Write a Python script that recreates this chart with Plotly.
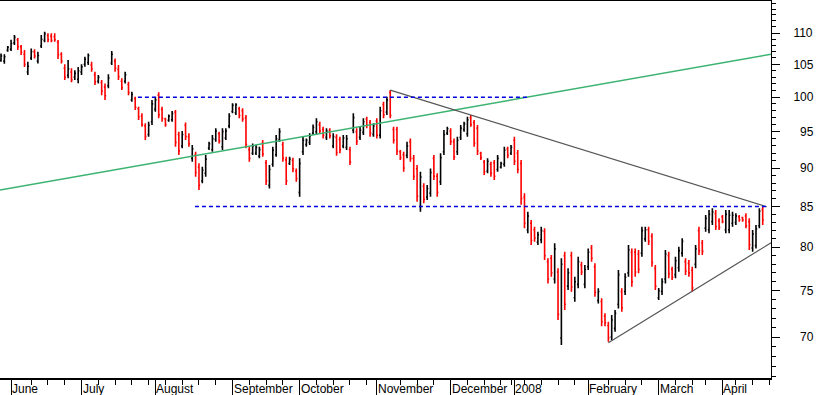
import plotly.graph_objects as go

# ---- OHLC data (one bar per trading day, index 1..228) ----
opens = [105.6,105.5,107.2,107.4,108.4,108.9,107.8,106.6,103.8,106.0,
107.0,105.5,107.9,108.8,109.6,109.5,109.4,108.5,106.6,104.4,
103.3,103.8,103.0,102.7,103.8,105.0,105.3,104.9,103.4,102.4,
102.2,101.5,101.7,105.2,105.5,104.2,102.4,102.4,101.9,99.6,
99.8,98.3,97.2,95.8,94.6,96.4,98.2,100.3,98.2,96.8,
96.6,96.7,97.8,94.6,93.0,95.9,94.3,91.3,91.8,90.1,
88.3,89.3,92.7,92.5,93.9,94.7,92.9,94.1,95.8,97.9,
97.7,98.3,98.0,97.0,92.5,92.0,92.0,91.6,93.4,90.7,
87.7,90.5,91.8,93.9,93.2,91.1,90.6,91.0,89.6,86.8,
92.2,93.2,93.5,94.8,95.0,96.0,95.3,94.2,95.2,93.0,
94.2,93.9,93.0,92.8,92.5,95.2,95.0,94.2,94.9,96.8,
96.3,94.6,96.5,94.5,98.9,97.8,100.7,95.3,95.3,92.2,
91.8,91.7,93.6,91.3,89.9,85.0,87.6,86.2,86.7,91.3,
88.9,88.2,92.2,94.8,95.1,93.6,92.2,94.2,95.3,94.7,
97.0,96.3,95.5,92.0,90.8,89.6,90.5,90.7,89.8,90.1,
90.5,92.6,92.0,93.8,92.0,90.6,86.2,82.1,82.9,82.1,
80.6,80.9,81.9,78.3,78.7,76.3,77.1,69.9,79.0,75.5,
79.0,74.2,75.7,77.9,75.7,77.7,79.9,77.7,73.9,73.8,
72.2,71.2,70.0,70.9,73.5,74.9,74.9,77.0,79.4,79.4,
79.2,79.3,81.0,82.1,81.3,77.5,74.2,74.9,76.3,79.0,
77.4,76.8,77.6,79.3,78.3,78.1,77.3,78.0,82.0,80.5,
82.3,82.1,83.1,84.1,83.2,83.7,82.1,82.1,82.9,83.0,
83.7,83.6,83.8,83.1,79.9,80.2,82.6,84.6]

highs = [106.7,106.6,107.9,108.9,109.7,109.2,108.05,107.25,105.4,107.5,
107.4,107.0,109.67,110.2,109.95,109.95,109.95,108.86,106.9,105.0,
105.67,104.38,104.1,104.6,105.0,106.19,106.7,105.4,103.85,103.35,
102.58,102.07,103.46,107.1,105.9,104.9,102.84,103.85,102.32,100.8,
100.06,98.58,97.62,96.18,96.4,99.57,100.06,100.72,98.58,97.0,
97.47,97.95,98.1,95.0,95.1,96.3,94.77,93.13,92.2,90.63,
90.17,91.75,93.58,94.52,95.47,95.0,95.47,95.47,97.62,99.09,
99.09,98.58,98.35,97.37,92.89,93.35,93.13,92.89,93.82,91.07,
90.4,92.89,94.52,95.47,93.58,91.52,91.52,91.38,89.95,91.3,
94.28,94.05,94.77,96.0,96.9,96.4,95.7,95.47,95.47,94.77,
94.63,94.28,94.52,94.52,92.89,97.62,95.47,95.7,96.9,97.13,
96.65,96.18,96.9,98.58,99.32,100.06,101.06,95.7,95.7,92.43,
92.2,93.58,94.05,91.75,90.4,89.5,87.97,87.75,89.95,91.75,
89.29,91.98,95.23,95.7,95.47,94.05,94.28,95.94,96.4,97.13,
97.37,96.65,95.94,92.2,91.07,91.3,90.84,91.07,91.75,90.84,
92.89,92.89,93.13,94.28,92.43,91.07,86.67,84.34,83.3,82.48,
81.86,82.48,82.28,78.69,79.07,80.46,77.53,78.69,79.46,77.53,
79.46,76.57,78.88,78.29,77.91,79.85,80.26,78.1,75.25,74.14,
72.51,71.61,72.33,72.86,77.33,75.25,76.95,80.26,79.85,79.85,
79.66,82.48,82.48,82.48,81.67,77.91,75.3,76.38,79.66,79.46,
77.7,78.88,80.06,81.07,78.69,78.49,77.7,80.26,82.48,80.86,
83.92,84.55,84.77,84.55,83.51,83.92,84.55,84.55,84.34,84.13,
83.92,83.71,84.13,83.51,82.07,82.68,84.77,84.98]

lows = [105.4,105.1,107.0,107.1,108.05,107.25,106.45,104.6,103.35,105.67,
105.9,105.15,107.6,108.5,108.5,108.5,108.6,105.83,105.15,102.58,
102.84,102.23,102.6,102.1,103.35,104.63,104.9,103.85,101.82,102.07,
100.3,99.57,101.32,104.9,103.85,102.58,101.06,102.07,100.3,99.32,
98.1,96.65,95.7,93.82,94.28,95.94,97.85,96.9,96.4,95.7,
96.4,96.4,92.89,91.75,92.67,93.82,92.89,90.84,88.84,87.1,
87.97,88.84,92.43,92.2,93.58,93.35,92.43,93.82,95.47,97.62,
97.37,96.9,96.4,92.67,90.84,91.75,91.75,91.3,91.52,87.75,
87.3,90.17,91.52,93.58,90.84,87.75,90.4,89.42,88.18,86.23,
91.75,92.89,93.13,94.52,94.52,94.77,94.05,93.82,94.05,92.67,
91.66,91.98,92.67,92.43,90.4,94.77,93.13,93.82,94.52,95.47,
94.28,94.28,94.05,94.05,96.9,97.37,96.9,93.35,91.75,91.07,
89.5,91.3,90.84,88.4,85.6,84.34,85.4,85.81,86.23,88.4,
86.23,87.75,91.75,94.52,93.13,91.07,91.75,93.82,95.0,94.28,
95.7,92.89,91.75,91.07,89.07,89.29,88.84,88.4,89.5,89.95,
90.17,91.3,91.75,90.4,89.29,85.2,82.28,81.67,80.26,80.66,
80.26,80.46,78.49,75.81,76.57,75.81,71.79,69.17,72.86,75.06,
74.87,73.76,75.25,76.76,75.25,77.33,78.29,74.31,73.58,71.13,
71.13,69.52,69.69,70.55,73.04,72.68,74.5,76.57,75.44,76.57,
76.95,78.88,80.66,80.26,77.7,75.06,73.95,74.5,75.81,76.38,
76.19,76.38,77.14,78.88,76.76,76.57,74.87,77.53,79.07,79.07,
81.86,81.67,82.68,82.07,82.07,82.89,81.67,81.67,82.48,82.68,
83.09,83.09,82.28,79.66,79.46,79.85,82.28,82.68]

closes = [106.3,106.2,107.7,108.3,109.3,107.8,106.9,105.0,104.7,107.0,
106.3,106.4,109.0,109.9,108.9,108.8,108.9,106.5,105.5,103.0,
104.3,102.6,103.6,104.0,104.6,105.8,106.4,104.3,102.3,103.0,
100.9,100.2,102.9,106.6,104.4,103.1,101.4,103.4,100.7,100.4,
98.5,97.1,96.0,94.3,95.9,99.0,99.6,97.4,96.9,96.0,
97.2,97.6,93.5,92.3,94.6,94.3,93.3,92.6,89.4,87.7,
89.7,91.2,93.3,94.0,95.1,93.7,95.0,95.1,97.2,98.8,
98.9,97.3,96.8,93.2,91.3,93.0,92.8,92.5,91.9,88.3,
89.8,92.4,94.0,95.0,91.3,88.3,91.2,89.9,88.6,90.6,
93.8,93.8,94.4,95.6,96.4,95.1,94.5,95.1,94.4,94.3,
92.1,92.5,94.1,94.0,90.8,97.0,93.6,95.2,96.4,95.9,
94.8,95.8,94.5,98.0,97.4,99.6,97.3,93.8,92.3,91.4,
90.0,93.0,91.3,88.9,86.3,88.8,85.9,87.3,89.4,88.9,
86.8,91.4,94.6,95.4,93.6,91.5,93.8,95.5,96.1,96.7,
96.0,93.4,92.3,91.4,89.5,90.9,89.3,88.9,91.3,90.6,
92.4,91.7,92.8,90.9,89.8,86.0,82.9,83.8,80.8,81.1,
81.5,82.0,79.0,76.3,77.0,79.8,72.4,78.0,73.5,77.0,
75.4,76.0,78.3,77.1,77.4,79.4,78.7,74.8,74.9,71.6,
71.5,69.9,71.8,72.5,76.8,73.1,76.5,79.7,76.0,77.1,
77.4,82.0,82.1,80.7,78.2,75.5,75.0,76.0,79.2,76.9,
76.5,78.4,79.6,80.7,77.2,77.0,75.3,79.8,79.6,79.5,
83.5,84.0,84.3,82.5,82.4,83.1,84.0,83.9,83.9,83.8,
83.3,83.3,82.6,80.3,81.6,82.2,84.4,83.3]

bar_index = list(range(1, len(closes) + 1))

# ---- axis annotations ----
month_labels = ["June", "July", "August", "September", "October", "November",
                "December", "2008", "February", "March", "April"]
month_starts = [4, 25, 47, 70, 90, 113, 135, 154, 176, 197, 216]
week_ticks = [10, 15, 20, 30, 35, 40, 45, 50, 55, 60, 65, 75, 80, 85,
              95, 100, 105, 110, 120, 125, 130, 140, 145, 150, 153,
              157, 162, 167, 172, 182, 187, 192, 202, 207, 211, 220, 225, 230]
price_ticks = [70, 75, 80, 85, 90, 95, 100, 105, 110]
price_minor = list(range(66, 116))

# ---- drawn lines (index, price) ----
green_x, green_y = [0.7, 230.5], [87.1, 106.6]
resist_x, resist_y = [117, 229.2], [101.06, 84.96]
support_x, support_y = [182, 230.5], [69.4, 80.53]
dash100_x, dash100_y = [41.8, 158], [100, 100]
dash85_x, dash85_y = [58.8, 229.2], [85, 85]

FONT = "Liberation Sans, Arial, sans-serif"
fig = go.Figure()

fig.add_trace(go.Ohlc(
    x=bar_index, open=opens, high=highs, low=lows, close=closes,
    increasing=dict(line=dict(color="#000000", width=1.6)),
    decreasing=dict(line=dict(color="#FF0000", width=1.6)),
    tickwidth=0.35, hoverinfo="skip", showlegend=False))

def line(xs, ys, color, width, dash=None):
    fig.add_trace(go.Scatter(x=xs, y=ys, mode="lines",
                             line=dict(color=color, width=width, dash=dash),
                             hoverinfo="skip", showlegend=False))

line(green_x, green_y, "#3CB371", 1.5)
line(resist_x, resist_y, "#555555", 1.2)
line(support_x, support_y, "#555555", 1.2)
line(dash100_x, dash100_y, "#0000DD", 1.5, "4px,3px")
line(dash85_x, dash85_y, "#0000DD", 1.5, "4px,3px")

ytext = [("\u2007" + str(v)) if v < 100 else str(v) for v in price_ticks]

fig.update_layout(
    width=817, height=395,
    margin=dict(l=0, r=46, t=1, b=17, pad=0),
    paper_bgcolor="white", plot_bgcolor="white",
    font=dict(family=FONT, size=12, color="black"),
    showlegend=False,
    xaxis=dict(
        range=[0.702, 230.47], showgrid=False, zeroline=False,
        showline=True, mirror=True, linecolor="black", linewidth=1.5,
        rangeslider=dict(visible=False),
        tickmode="array", tickvals=month_starts, ticks="outside",
        ticklen=17, tickwidth=1, tickcolor="black", showticklabels=False,
        minor=dict(tickmode="array", tickvals=week_ticks, ticks="outside",
                   ticklen=5, tickwidth=1, tickcolor="black", showgrid=False),
        automargin=False,
    ),
    yaxis=dict(
        type="log", side="right",
        range=[1.81862, 2.06210], showgrid=False, zeroline=False,
        showline=True, linecolor="black", linewidth=1,
        tickmode="array", tickvals=price_ticks, ticktext=ytext,
        ticks="outside", ticklen=8, tickwidth=1, tickcolor="black",
        ticklabelstandoff=11,
        minor=dict(tickmode="array", tickvals=price_minor, ticks="outside",
                   ticklen=4, tickwidth=1, tickcolor="black", showgrid=False),
        tickfont=dict(family=FONT, size=12, color="black"),
        automargin=False,
    ),
)

for lab, pos in zip(month_labels, month_starts):
    fig.add_annotation(x=pos, y=0, xref="x", yref="paper", text=lab,
                       showarrow=False, xanchor="left", yanchor="top",
                       xshift=0, yshift=-3, borderpad=0,
                       font=dict(family=FONT, size=12, color="black"))

fig.write_html("out.html",
               config={"displayModeBar": False},
               post_script="document.body.style.margin='0';"
                           "document.body.style.overflow='hidden';")
